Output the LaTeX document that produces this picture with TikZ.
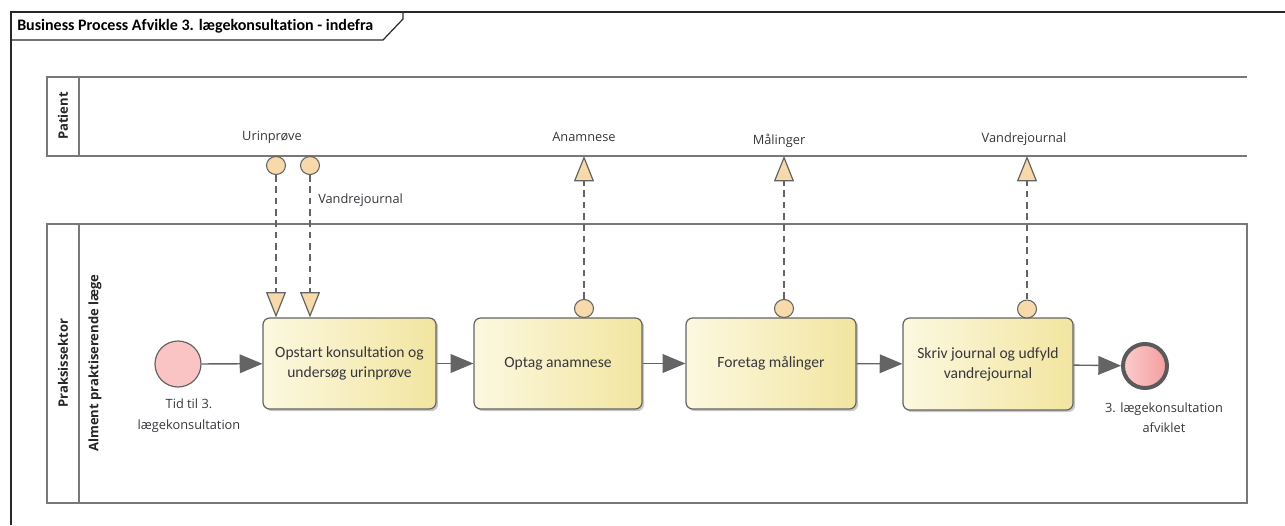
\documentclass[tikz,border=0pt]{standalone}
\usepackage{fontspec}
\setmainfont{Carlito}[Ligatures=NoCommon]
\newfontfamily\lblfont{Open Sans}
\usetikzlibrary{shadows,arrows.meta,shapes.geometric}

\definecolor{frameC}{RGB}{40,40,40}
\definecolor{laneC}{RGB}{120,120,120}
\definecolor{flowC}{RGB}{100,100,100}
\definecolor{taskL}{RGB}{252,248,224}
\definecolor{taskR}{RGB}{242,229,160}
\definecolor{dataF}{RGB}{248,218,170}
\definecolor{startF}{RGB}{250,196,196}
\definecolor{endL}{RGB}{251,204,204}
\definecolor{endR}{RGB}{244,158,158}
\definecolor{txtC}{RGB}{55,55,60}

\newdimen\pxu \pxu=0.75pt

\tikzset{
  frameline/.style={draw=frameC, line width=0.9pt},
  laneline/.style={draw=laneC, line width=1.6pt},
  task/.style={draw=flowC, line width=0.9pt, rounded corners=5pt,
    left color=taskL, right color=taskR, text=txtC, align=center,
    font=\fontsize{11.7}{15}\selectfont, inner sep=0pt,
    drop shadow={shadow xshift=1.6pt, shadow yshift=-1.6pt, fill=black, opacity=0.22}},
  startev/.style={circle, draw=flowC, line width=0.9pt, fill=startF,
    minimum size=46*\pxu, inner sep=0pt},
  endev/.style={circle, draw=flowC!90!black, line width=3pt,
    left color=endL, right color=endR, minimum size=44*\pxu, inner sep=0pt},
  flow/.style={draw=flowC, line width=1pt,
    -{Triangle[length=17pt, width=14pt, fill=flowC]}},
  dataend/.style={ellipse, draw=flowC, line width=0.8pt, fill=dataF,
    minimum width=19*\pxu, minimum height=18*\pxu, inner sep=0pt},
  assoc/.style={draw=flowC, line width=0.9pt, dash pattern=on 5pt off 3.5pt,
    -{Triangle[length=19pt, width=15pt, fill=dataF, sep=0pt]}},
  lbl/.style={font=\lblfont\fontsize{9.6}{15.3}\selectfont, text=txtC, align=center, inner sep=0pt},
  lanelbl/.style={font=\lblfont\bfseries\fontsize{9.8}{11}\selectfont, text=black!85, rotate=90, inner sep=0pt},
}

\begin{document}
\begin{tikzpicture}[x=0.75pt, y=-0.75pt]
\useasboundingbox (0,0) rectangle (1285,525);

% diagram frame and its title tab
\draw[frameline] (1285,12) -- (11,12) -- (11,525);
\draw[frameline] (11,40) -- (383,40) -- (403,19) -- (403,12);
\node[anchor=west, inner sep=0pt, font=\bfseries\fontsize{12}{14}\selectfont]
  (title) at (17,26.5) {Business Process Afvikle 3. lægekonsultation - indefra};

% Patient lane (open to the right)
\draw[laneline] (1247,77) -- (47,77) -- (47,156) -- (1247,156);
\draw[laneline] (79,77) -- (79,156);
\coordinate (pb) at (0,156);
\node[lanelbl] (patient) at (63,116) {Patient};

% Praksissektor pool
\draw[laneline] (47,224) rectangle (1247,503);
\draw[laneline] (79,224) -- (79,503);
\node[lanelbl] (pool) at (63,363) {Praksissektor};
\node[lanelbl] (lane) at (95,363) {Alment praktiserende læge};

% events and tasks
\node[startev] (start) at (178,364) {};
\node[lbl, anchor=north] (startlbl) at (189,399) {Tid til 3.\\lægekonsultation};

\node[task, minimum width=173*\pxu, minimum height=91*\pxu] (t1) at (349.5,363.5)
  {Opstart konsultation og\\undersøg urinprøve};
\node[task, minimum width=168*\pxu, minimum height=91*\pxu] (t2) at (558,363.5)
  {Optag anamnese};
\node[task, minimum width=170*\pxu, minimum height=91*\pxu] (t3) at (771,363.5)
  {Foretag målinger};
\node[task, minimum width=170*\pxu, minimum height=92*\pxu] (t4) at (988,364)
  {Skriv journal og udfyld\\vandrejournal};

\node[endev] (end) at (1145,366) {};
\node[lbl, anchor=north] (endlbl) at (1164,402.5) {3. lægekonsultation\\afviklet};

% sequence flows
\draw[flow] (start) -- (t1);
\draw[flow] (t1) -- (t2);
\draw[flow] (t2) -- (t3);
\draw[flow] (t3) -- (t4);
\draw[flow] (t4) -- (end);

% data inputs from the Patient lane
\node[dataend] (din1) at (276,165.5) {};
\node[dataend] (din2) at (310,165.5) {};
\node[lbl] (urin) at (272,137) {Urinprøve};
\node[lbl, anchor=west] (vj1) at (318,200) {Vandrejournal};
\draw[assoc] (din1) -- (din1 |- t1.north);
\draw[assoc] (din2) -- (din2 |- t1.north);

% data outputs to the Patient lane
\node[dataend] (dout2) at (584,308.5) {};
\node[dataend] (dout3) at (784,308.5) {};
\node[dataend] (dout4) at (1027,309) {};
\node[lbl] (anam) at (584,137) {Anamnese};
\node[lbl] (mal) at (779,141) {Målinger};
\node[lbl] (vj2) at (1024,139) {Vandrejournal};
\draw[assoc] (dout2) -- (dout2 |- pb);
\draw[assoc] (dout3) -- (dout3 |- pb);
\draw[assoc] (dout4) -- (dout4 |- pb);

\end{tikzpicture}
\end{document}
